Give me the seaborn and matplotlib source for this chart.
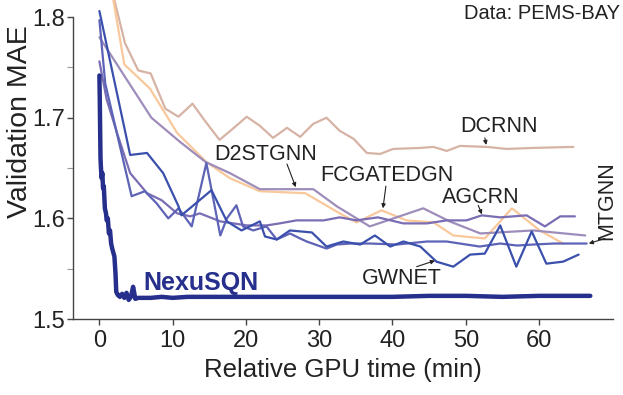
import numpy as np
import pandas as pd
import matplotlib
matplotlib.use('Agg')
import matplotlib.pyplot as plt
import seaborn as sns

# validation curves (time in min, MAE)
nexu_t = [0.0, 0.05, 0.1, 0.15, 0.2, 0.3, 0.4, 0.5, 0.6, 0.75, 0.9, 1.0, 1.15, 1.3, 1.45, 1.6, 1.75,
          1.9, 2.05, 2.2, 2.3, 2.5, 2.8, 3.1, 3.4, 3.7, 4.0, 4.3, 4.6, 4.9, 5.3, 6.0, 7.0, 8.5, 10,
          12, 15, 20, 25, 30, 35, 40, 45, 50, 55, 60, 64, 67]
nexu_mae = [1.742, 1.72, 1.69, 1.66, 1.652, 1.64, 1.645, 1.63, 1.632, 1.61, 1.605, 1.598, 1.60,
            1.585, 1.588, 1.575, 1.57, 1.566, 1.562, 1.545, 1.527, 1.524, 1.522, 1.525, 1.521,
            1.526, 1.519, 1.522, 1.532, 1.520, 1.521, 1.521, 1.521, 1.522, 1.521, 1.522, 1.522,
            1.522, 1.522, 1.522, 1.522, 1.522, 1.523, 1.523, 1.522, 1.523, 1.523, 1.523]

dcrnn_t = [1.6, 3.5, 5.3, 7.0, 9.0, 10.8, 12.7, 14.5, 16.4, 18.2, 20.1, 21.9, 23.7, 25.6, 27.4,
           29.2, 31.0, 32.8, 34.7, 36.5, 38.3, 40.1, 43.8, 45.6, 47.4, 49.2, 52.9, 55.6, 59.2, 64.7]
dcrnn_mae = [1.83, 1.774, 1.747, 1.744, 1.709, 1.701, 1.714, 1.696, 1.678, 1.689, 1.701, 1.692,
             1.680, 1.690, 1.681, 1.694, 1.700, 1.687, 1.679, 1.665, 1.664, 1.669, 1.670, 1.671,
             1.667, 1.672, 1.671, 1.669, 1.670, 1.671]

fcg_t = [1.6, 3.4, 6.9, 10.6, 14.6, 17.8, 21.9, 28.1, 32.8, 35.1, 38.5, 41.9, 45.6, 48.3, 52.6,
         56.3, 60.1, 63.3]
fcg_mae = [1.83, 1.753, 1.729, 1.685, 1.656, 1.640, 1.627, 1.625, 1.605, 1.596, 1.608, 1.598,
           1.596, 1.583, 1.580, 1.610, 1.588, 1.575]

d2_t = [0.0, 7.1, 11.0, 14.5, 17.8, 21.9, 29.2, 32.4, 36.9, 44.2, 47.8, 52.0, 59.2, 66.3]
d2_mae = [1.780, 1.700, 1.676, 1.656, 1.645, 1.629, 1.629, 1.612, 1.592, 1.610, 1.597, 1.585,
          1.588, 1.583]

agcrn_t = [0.0, 1.0, 2.4, 4.2, 6.5, 8.5, 10.6, 12.4, 13.7, 16.5, 20.1, 22.8, 24.6, 26.9, 30.6,
           32.8, 35.1, 38.0, 41.5, 44.7, 47.4, 50.1, 52.2, 54.7, 58.3, 60.8, 62.9, 64.9]
agcrn_mae = [1.756, 1.718, 1.685, 1.645, 1.625, 1.618, 1.605, 1.602, 1.605, 1.597, 1.593, 1.593,
             1.595, 1.598, 1.598, 1.601, 1.598, 1.601, 1.595, 1.595, 1.598, 1.598, 1.603, 1.601,
             1.603, 1.592, 1.602, 1.602]

mtgnn_t = [0.0, 0.8, 2.6, 4.4, 6.2, 7.8, 9.4, 10.8, 12.6, 14.6, 16.5, 17.4, 18.7, 19.6, 21.0,
           22.8, 24.2, 26.0, 27.4, 28.3, 31.0, 32.4, 34.2, 37.0, 40.6, 44.7, 47.4, 51.9, 54.7,
           57.0, 59.2, 62.0, 66.5]
mtgnn_mae = [1.797, 1.734, 1.678, 1.622, 1.627, 1.615, 1.600, 1.610, 1.592, 1.655, 1.583, 1.600,
             1.613, 1.592, 1.588, 1.592, 1.579, 1.585, 1.580, 1.577, 1.570, 1.574, 1.575, 1.575,
             1.574, 1.577, 1.577, 1.572, 1.575, 1.573, 1.574, 1.575, 1.575]

gwnet_t = [0.0, 4.2, 6.5, 8.7, 10.8, 11.2, 15.3, 17.4, 19.4, 21.9, 22.6, 24.2, 26.0, 29.0, 31.0,
           33.3, 35.6, 37.6, 39.7, 41.5, 43.8, 46.0, 48.3, 50.6, 52.6, 54.7, 56.9, 59.0, 61.0,
           63.3, 65.4]
gwnet_mae = [1.806, 1.663, 1.665, 1.645, 1.612, 1.603, 1.628, 1.597, 1.588, 1.597, 1.582, 1.579,
             1.588, 1.586, 1.572, 1.577, 1.574, 1.583, 1.572, 1.577, 1.572, 1.557, 1.552, 1.564,
             1.565, 1.593, 1.552, 1.587, 1.555, 1.557, 1.564]

models = ['DCRNN', 'FCGATEDGN', 'D2STGNN', 'AGCRN', 'MTGNN', 'GWNET']
times = [dcrnn_t, fcg_t, d2_t, agcrn_t, mtgnn_t, gwnet_t]
maes = [dcrnn_mae, fcg_mae, d2_mae, agcrn_mae, mtgnn_mae, gwnet_mae]
colors = {'DCRNN': '#d6b3a5', 'FCGATEDGN': '#f9c89b', 'D2STGNN': '#9e8dbb',
          'AGCRN': '#7a6db3', 'MTGNN': '#5d63b6', 'GWNET': '#3b50ad'}

df = pd.concat([pd.DataFrame({'time': t, 'mae': m, 'model': name})
                for name, t, m in zip(models, times, maes)], ignore_index=True)

sns.set_style('ticks')
plt.rcParams['font.family'] = ['Liberation Sans', 'DejaVu Sans']

fig = plt.figure(figsize=(6.23, 3.95), dpi=100)
ax = fig.add_axes([0.1172, 0.1924, 0.8668, 0.8076])

sns.lineplot(data=df, x='time', y='mae', hue='model', palette=colors, sort=False,
             estimator=None, legend=False, lw=1.6, ax=ax)
sns.lineplot(x=nexu_t, y=nexu_mae, color='#262f8c', lw=3.2, sort=False, estimator=None, ax=ax)

ax.set_xlim(-3.6, 70.1)
ax.set_ylim(1.5, 1.817)
ax.set_xticks([0, 10, 20, 30, 40, 50, 60])
ax.set_yticks([1.5, 1.6, 1.7, 1.8])
ax.set_yticks([1.55, 1.65, 1.75], minor=True)
ax.spines['top'].set_visible(False)
ax.spines['right'].set_visible(False)
ax.spines['left'].set_bounds(1.5, 1.8)
for s in ['left', 'bottom']:
    ax.spines[s].set_color('#444444')
    ax.spines[s].set_linewidth(1.0)
ax.tick_params(axis='both', which='major', labelsize=17, length=4, width=1.0,
               color='#444444', labelcolor='#222222')
ax.tick_params(axis='y', which='major', pad=1.5)
ax.tick_params(axis='x', which='major', pad=4)
ax.tick_params(axis='y', which='minor', length=4, width=0.8, color='#999999')

ax.set_xlabel('Relative GPU time (min)', fontsize=18.5, color='#222222', labelpad=4)
ax.set_ylabel('Validation MAE', fontsize=20.5, color='#222222')
ax.yaxis.set_label_coords(-0.074, 0.618)

lab = dict(fontsize=15.5, color='#222222', ha='center', va='center')
ax.text(54.6, 1.691, 'DCRNN', **lab)
ax.text(22.7, 1.663, 'D2STGNN', **lab)
ax.text(39.3, 1.643, 'FCGATEDGN', **lab)
ax.text(52.1, 1.621, 'AGCRN', **lab)
ax.text(41.3, 1.540, 'GWNET', **lab)
ax.text(69.3, 1.618, 'MTGNN', rotation=90, **lab)
ax.text(13.9, 1.536, 'NexuSQN', fontsize=18, fontweight='bold', color='#262f8c',
        ha='center', va='center')

arrows = [((52.6, 1.680), (52.8, 1.673)),
          ((25.6, 1.654), (26.8, 1.631)),
          ((39.1, 1.632), (38.7, 1.610)),
          ((51.7, 1.613), (52.2, 1.604)),
          ((43.3, 1.552), (45.8, 1.558)),
          ((69.0, 1.580), (66.8, 1.575))]
for start, tip in arrows:
    ax.annotate('', xy=tip, xytext=start,
                arrowprops=dict(arrowstyle='-|>', lw=0.8, color='#222222', mutation_scale=6,
                                shrinkA=0, shrinkB=0))

fig.text(620 / 623, 1 - 13.5 / 395, 'Data: PEMS-BAY', fontsize=14.5, color='#222222',
         ha='right', va='center')

fig.savefig('out.png', dpi=100)
